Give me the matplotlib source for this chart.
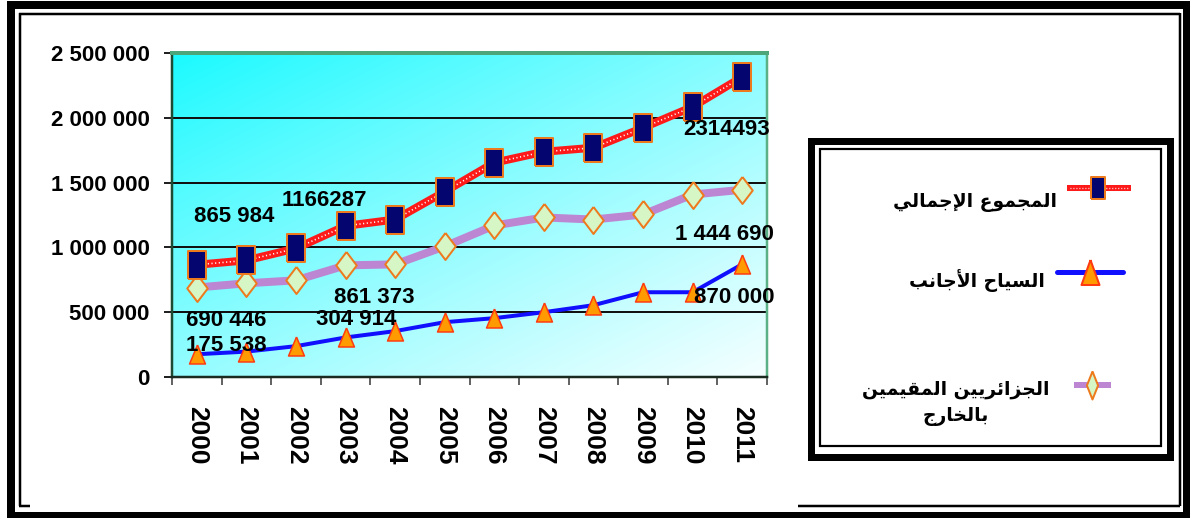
import matplotlib
matplotlib.use("Agg")
import matplotlib.pyplot as plt
import numpy as np
from matplotlib.patches import Rectangle

# ---------------- data ----------------
years = ["2000", "2001", "2002", "2003", "2004", "2005",
         "2006", "2007", "2008", "2009", "2010", "2011"]
total = [865984, 900000, 992000, 1166287, 1215000, 1430000,
         1654000, 1738000, 1769000, 1923000, 2085000, 2314493]
diaspora = [690446, 723000, 746000, 861373, 869000, 1008000,
            1169000, 1231000, 1215000, 1254000, 1408000, 1444690]
foreign = [175538, 196000, 238000, 304914, 354000, 423000,
           454000, 500000, 554000, 654000, 654000, 870000]
yticks = [0, 500000, 1000000, 1500000, 2000000, 2500000]
ytick_labels = ["0", "500 000", "1 000 000", "1 500 000", "2 000 000", "2 500 000"]

label_total = "المجموع الإجمالي"
label_foreign = "السياح الأجانب"
label_diaspora = "الجزائريين المقيمين\nبالخارج"

# value labels: (index, text)
ann_total = [(0, "865 984"), (3, "1166287"), (11, "2314493")]
ann_diaspora = [(0, "690 446"), (3, "861 373"), (11, "1 444 690")]
ann_foreign = [(0, "175 538"), (3, "304 914"), (11, "870 000")]

# ---------------- arabic shaping ----------------
FORMS = {
    '\u0627': ('\uFE8D', '\uFE8E', None, None),
    '\u0623': ('\uFE83', '\uFE84', None, None),
    '\u0625': ('\uFE87', '\uFE88', None, None),
    '\u0628': ('\uFE8F', '\uFE90', '\uFE91', '\uFE92'),
    '\u062A': ('\uFE95', '\uFE96', '\uFE97', '\uFE98'),
    '\u062C': ('\uFE9D', '\uFE9E', '\uFE9F', '\uFEA0'),
    '\u062D': ('\uFEA1', '\uFEA2', '\uFEA3', '\uFEA4'),
    '\u062E': ('\uFEA5', '\uFEA6', '\uFEA7', '\uFEA8'),
    '\u0631': ('\uFEAD', '\uFEAE', None, None),
    '\u0632': ('\uFEAF', '\uFEB0', None, None),
    '\u0633': ('\uFEB1', '\uFEB2', '\uFEB3', '\uFEB4'),
    '\u0639': ('\uFEC9', '\uFECA', '\uFECB', '\uFECC'),
    '\u0642': ('\uFED5', '\uFED6', '\uFED7', '\uFED8'),
    '\u0644': ('\uFEDD', '\uFEDE', '\uFEDF', '\uFEE0'),
    '\u0645': ('\uFEE1', '\uFEE2', '\uFEE3', '\uFEE4'),
    '\u0646': ('\uFEE5', '\uFEE6', '\uFEE7', '\uFEE8'),
    '\u0648': ('\uFEED', '\uFEEE', None, None),
    '\u064A': ('\uFEF1', '\uFEF2', '\uFEF3', '\uFEF4'),
    '\u0626': ('\uFE89', '\uFE8A', '\uFE8B', '\uFE8C'),
}
LAM_ALEF = {'\u0627': ('\uFEFB', '\uFEFC'),
            '\u0623': ('\uFEF7', '\uFEF8'),
            '\u0625': ('\uFEF9', '\uFEFA')}


def _dual(c):
    return c in FORMS and FORMS[c][2] is not None


def shape_line(line):
    out = []
    i = 0
    n = len(line)
    while i < n:
        c = line[i]
        if c not in FORMS:
            out.append(c)
            i += 1
            continue
        prev = line[i - 1] if i > 0 else ''
        jp = _dual(prev)
        if c == '\u0644' and i + 1 < n and line[i + 1] in LAM_ALEF:
            out.append(LAM_ALEF[line[i + 1]][1 if jp else 0])
            i += 2
            continue
        nxt = line[i + 1] if i + 1 < n else ''
        jn = _dual(c) and nxt in FORMS
        iso, fin, ini, med = FORMS[c]
        if jp and jn:
            out.append(med)
        elif jp:
            out.append(fin)
        elif jn:
            out.append(ini)
        else:
            out.append(iso)
        i += 1
    return ''.join(reversed(out))


def shape(text):
    return "\n".join(shape_line(l) for l in text.split("\n"))


# ---------------- styles ----------------
W, H = 1190, 518
PX = 72.0 / 100.0  # points per pixel
NARROW = ['Liberation Sans Narrow', 'Liberation Sans', 'DejaVu Sans']
ARIAL = ['Liberation Sans', 'DejaVu Sans']
ARABIC = ['DejaVu Sans']

sq_marker = [(-0.33, -0.5), (0.33, -0.5), (0.33, 0.5), (-0.33, 0.5), (-0.33, -0.5)]
dia_marker = [(0, 0.5), (0.38, 0), (0, -0.5), (-0.38, 0), (0, 0.5)]
tri_marker = [(0, 0.5), (0.42, -0.5), (-0.42, -0.5), (0, 0.5)]

C_RED = '#ff1a1a'
C_LILAC = '#bd86d2'
C_BLUE = '#1010ff'
C_NAVY = '#050570'
C_ORANGE_EDGE = '#ee7a1e'
C_DIA_FILL = '#d6f6c6'
C_TRI_FILL = '#ff9a00'
C_TRI_EDGE = '#ff3a10'

fig = plt.figure(figsize=(W / 100, H / 100), dpi=100)
fig.patch.set_facecolor('white')

# plot area
L, R, T, B = 172, 767, 53, 377
ax = fig.add_axes([L / W, 1 - B / H, (R - L) / W, (B - T) / H])
x = np.arange(len(years))
ax.set_xlim(-0.5, len(years) - 0.5)
ax.set_ylim(0, 2500000)

# gradient background
gx = np.linspace(0, 1, 200)
gy = np.linspace(0, 1, 120)
GX, GY = np.meshgrid(gx, gy)
t = np.clip((GX * 0.95 + GY * 1.05) / 2.0, 0, 1)
img = np.zeros((120, 200, 3))
img[..., 0] = (25 + 220 * t ** 0.9) / 255.0
img[..., 1] = (250 + 5 * t) / 255.0
img[..., 2] = 1.0
ax.imshow(img, extent=(-0.5, len(years) - 0.5, 0, 2500000), origin='upper',
          aspect='auto', zorder=0, interpolation='bilinear')

# grid lines
for yv in yticks[1:-1]:
    ax.axhline(yv, color='#111111', lw=2 * PX, zorder=1)

# series lines
ax.plot(x, diaspora, color=C_LILAC, lw=8 * PX, solid_capstyle='round', zorder=2)
ax.plot(x, total, color=C_RED, lw=8 * PX, solid_capstyle='round', zorder=2)
ax.plot(x, total, color='white', lw=1.6 * PX, ls=(0, (0.7, 1.6)), zorder=2.1)
ax.plot(x, foreign, color=C_BLUE, lw=4 * PX, zorder=2)

# markers
ax.plot(x, diaspora, ls='none', marker=dia_marker, ms=27 * PX,
        mfc=C_DIA_FILL, mec=C_ORANGE_EDGE, mew=2 * PX, zorder=3)
ax.plot(x, total, ls='none', marker=sq_marker, ms=28 * PX,
        mfc=C_NAVY, mec=C_ORANGE_EDGE, mew=2 * PX, zorder=3)
ax.plot(x, foreign, ls='none', marker=tri_marker, ms=19 * PX,
        mfc=C_TRI_FILL, mec=C_TRI_EDGE, mew=1.5 * PX, zorder=3)

# value labels
offsets_total = {0: (27, 35), 3: (-15, 18), 11: (-11, -38)}
offsets_dia = {0: (21, -24), 3: (21, -23), 11: (-13, -32)}
offsets_for = {0: (21, 6.5), 3: (8, 13), 11: (-6, -24)}
for series, anns, offs in ((total, ann_total, offsets_total),
                           (diaspora, ann_diaspora, offsets_dia),
                           (foreign, ann_foreign, offsets_for)):
    for idx, txt in anns:
        ax.annotate(txt, (x[idx], series[idx]), xytext=offs[idx],
                    textcoords='offset points', ha='center', va='center',
                    fontsize=16, fontweight='bold', family=NARROW,
                    color='black', zorder=5)

# spines
ax.spines['left'].set_color('#1d4a32')
ax.spines['left'].set_linewidth(2.5 * PX)
ax.spines['top'].set_color('#4da57a')
ax.spines['top'].set_linewidth(4 * PX)
ax.spines['right'].set_color('#5cb085')
ax.spines['right'].set_linewidth(2.5 * PX)
ax.spines['bottom'].set_color('#1a2a20')
ax.spines['bottom'].set_linewidth(2.5 * PX)

# y ticks
ax.set_yticks(yticks)
ax.set_yticklabels(ytick_labels, fontsize=16, fontweight='bold', family=NARROW)
ax.tick_params(axis='y', direction='out', length=6, width=2 * PX,
               color='#222222', pad=10)

# x ticks: marks at boundaries, labels at categories
ax.set_xticks(np.arange(-0.5, len(years), 1.0))
ax.set_xticklabels([])
ax.tick_params(axis='x', which='major', direction='out', length=6,
               width=1.5 * PX, color='#333333')
ax.set_xticks(x, minor=True)
ax.set_xticklabels(years, minor=True, rotation=270, fontsize=19,
                   fontweight='bold', family=ARIAL, va='top', ha='center')
ax.tick_params(axis='x', which='minor', length=0, pad=21)

# ---------------- overlay: frames & legend ----------------
ov = fig.add_axes([0, 0, 1, 1], zorder=10)
ov.set_xlim(0, W)
ov.set_ylim(H, 0)
ov.axis('off')
ov.patch.set_visible(False)

# outer thick frame
for (x0, y0, w, h) in [(7, 1, W - 7, 8), (7, 1, 8, H), (1183, 1, 7, H), (7, 512, W - 7, 6)]:
    ov.add_patch(Rectangle((x0, y0), w, h, facecolor='black', edgecolor='none'))
# inner thin frame
thin = dict(color='black', lw=2.5 * PX, solid_capstyle='butt')
ov.plot([19, 1180], [13.5, 13.5], **thin)
ov.plot([19.5, 19.5], [13, 506], **thin)
ov.plot([1179.5, 1179.5], [13, 506], **thin)
ov.plot([19, 30], [505.5, 505.5], **thin)
ov.plot([798, 1180], [505.5, 505.5], **thin)

# legend box
ov.add_patch(Rectangle((810.5, 140.5), 1169.5 - 810.5, 456.5 - 140.5,
                       fill=False, edgecolor='black', lw=7 * PX))
ov.add_patch(Rectangle((819.5, 148.5), 1161 - 819.5, 446 - 148.5,
                       fill=False, edgecolor='black', lw=2.2 * PX))

# legend samples
ov.plot([1070, 1128], [188, 188], color=C_RED, lw=6 * PX)
ov.plot([1070, 1128], [188, 188], color='white', lw=1.3 * PX, ls=(0, (0.7, 1.6)))
ov.plot([1098], [188], ls='none', marker=sq_marker, ms=22 * PX,
        mfc=C_NAVY, mec=C_ORANGE_EDGE, mew=2 * PX)
ov.plot([1057, 1123], [272, 272], color=C_BLUE, lw=5 * PX, solid_capstyle='round')
ov.plot([1090], [272], ls='none', marker=[(0, 0.5), (0.36, -0.5), (-0.36, -0.5), (0, 0.5)],
        ms=25 * PX, mfc=C_TRI_FILL, mec=C_TRI_EDGE, mew=2 * PX)
ov.plot([1077, 1108], [385, 385], color=C_LILAC, lw=6 * PX)
ov.plot([1092], [385], ls='none', marker=[(0, 0.5), (0.2, 0), (0, -0.5), (-0.2, 0), (0, 0.5)],
        ms=28 * PX, mfc=C_DIA_FILL, mec=C_ORANGE_EDGE, mew=2 * PX)

# legend labels
ov.text(1057, 203, shape(label_total), ha='right', va='center', fontsize=13.5,
        fontweight='bold', family=ARABIC)
ov.text(1045, 281, shape(label_foreign), ha='right', va='center', fontsize=13.5,
        fontweight='bold', family=ARABIC)
ov.text(956, 403, shape(label_diaspora), ha='center', va='center', fontsize=13.5,
        fontweight='bold', family=ARABIC, multialignment='center', linespacing=1.45)

fig.savefig('out.png', dpi=100, facecolor='white')
